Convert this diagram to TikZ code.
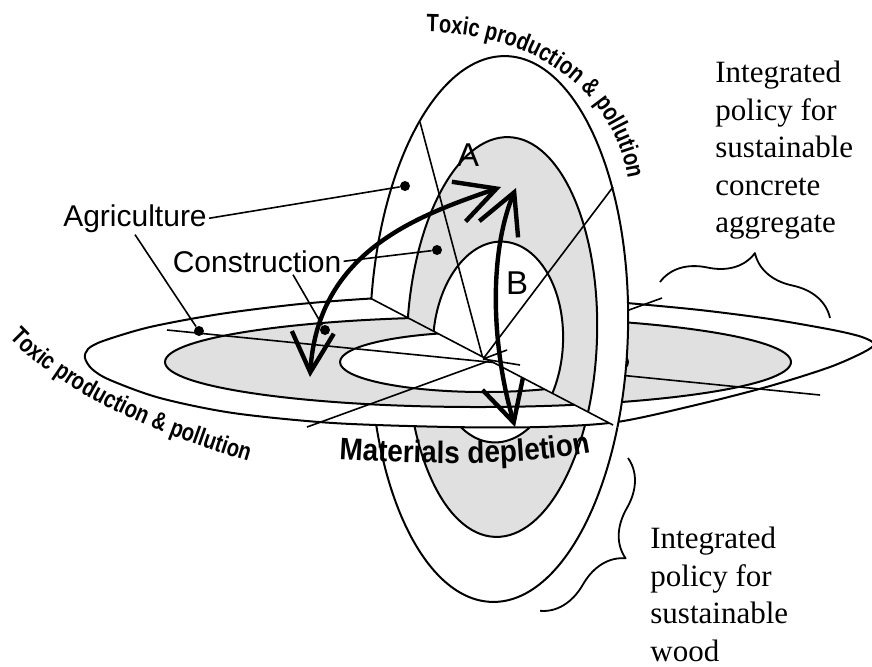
\documentclass[tikz,border=0pt]{standalone}
\usepackage{fontspec}
\usetikzlibrary{arrows.meta,decorations.pathreplacing,decorations.text}
\newfontfamily\sansfont{Liberation Sans}
\newfontfamily\policyfont{Liberation Serif}
\newfontfamily\narrowbold{Liberation Sans}[FakeStretch=0.8]
\newfontfamily\depletionfont{Liberation Sans}[FakeStretch=0.9]
\definecolor{bandgray}{gray}{0.88}

% vertical disk: outer ring, shaded band, inner core
\newcommand\verticaldisk{%
  \filldraw[rim, fill=white, rotate around={-1.5:(499,329)}] (499,329) ellipse [x radius=129, y radius=273];
  \filldraw[rim, fill=bandgray, rotate around={-2:(502,337)}] (502,337) ellipse [x radius=95, y radius=200];
  \filldraw[rim, fill=white, rotate around={-3:(498,342)}] (498,342) ellipse [x radius=65, y radius=100.5];
}

\begin{document}
\begin{tikzpicture}[x=0.5pt, y=-0.5pt, line join=round,
    rim/.style={line width=1pt},
    axis/.style={line width=0.8pt},
    dot/.style={circle, fill, inner sep=0pt, minimum size=5pt},
    twoway/.style={line width=2.2pt, line cap=round,
      {Straight Barb[length=20pt,width=21pt]}-{Straight Barb[length=20pt,width=21pt]}},
    tag/.style={font=\sansfont\fontsize{15}{18}\selectfont, inner sep=1pt},
    letter/.style={font=\sansfont\fontsize{16.5}{18}\selectfont, inner sep=0pt},
    policy/.style={font=\policyfont\fontsize{15.5}{18.7}\selectfont, align=left,
      anchor=north west, inner sep=0pt},
    curly/.style={decorate, decoration={brace, amplitude=24pt, aspect=0.5}, line width=0.9pt}]
  \clip (0,0) rectangle (872,666);

  \coordinate (O) at (483,359);
  \coordinate (Lback) at (370,298);
  \coordinate (Lfront) at (613,425);

  % lower half of the vertical disk, under the horizontal one
  \begin{scope}
    \clip (0,104.6) -- (872,560.4) -- (872,666) -- (0,666) -- cycle;
    \verticaldisk
  \end{scope}

  % horizontal disk
  \filldraw[rim, fill=white] plot[smooth cycle] coordinates {
    (85,358) (92,369) (110,380) (160,398) (233,413) (333,423) (450,427) (540,427)
    (617,422) (700,404) (770,386) (830,367) (864,352) (874,344) (862,337) (833,330)
    (770,319) (700,310) (627,303) (560,297) (470,295) (380,298) (300,304)
    (220,314) (150,327) (103,341) (88,349)};
  \filldraw[rim, fill=bandgray] (478,362) ellipse [x radius=313, y radius=45];
  \filldraw[rim, fill=white] (484,362) ellipse [x radius=144, y radius=30];
  \coordinate (H1a) at (167,330);
  \coordinate (H1b) at (820,395);
  \coordinate (H2a) at (307,427);
  \coordinate (H2b) at (662,298);
  \draw[axis] (H1a) -- (H1b);
  \draw[axis] (H2a) -- (H2b);

  % upper half of the vertical disk
  \begin{scope}
    \clip (0,104.6) -- (872,560.4) -- (872,0) -- (0,0) -- cycle;
    \verticaldisk
    \coordinate (V1) at (420,122);
    \coordinate (V2) at (613,187);
    \draw[axis] (V1) -- (O) -- (V2);
  \end{scope}

  \draw[axis] (Lback) -- (Lfront);
  \draw[axis] (O) -- (520,365);
  \draw[axis] (O) -- (507,350);

  % labels and pointers
  \node[tag, anchor=base] (agri) at (135,226) {Agriculture};
  \node[tag, anchor=base] (constr) at (257,272) {Construction};
  \node[dot] (agriV) at (405,186) {};
  \node[dot] (consV) at (437,250) {};
  \node[dot] (agriH) at (199,331) {};
  \node[dot] (consH) at (325,330) {};
  \draw[axis] (agri.east) -- (agriV);
  \draw[axis] (agri.south) -- (agriH);
  \draw[axis] (constr.east) -- (consV);
  \draw[axis] ([xshift=18pt]constr.south) -- (consH);

  \node[letter] (labA) at (468,155) {A};
  \node[letter] (labB) at (517,283) {B};

  \coordinate (Alow) at (310,377);
  \coordinate (Aup) at (501,187);
  \coordinate (Bup) at (516,188);
  \coordinate (Blow) at (515,427);
  \draw[twoway] (Alow) .. controls (318,250) and (420,215) .. (Aup);
  \draw[twoway] (Bup) .. controls (490,250) and (490,340) .. (Blow);

  % curved captions
  \path[decorate, decoration={text along path, text align=center,
      text={|\narrowbold\bfseries\fontsize{12.5}{12.5}\selectfont|Toxic production {\&} pollution}}]
    (425,32) .. controls (520,32) and (612,80) .. (628,180);
  \path[decorate, decoration={text along path, text align=center,
      text={|\narrowbold\bfseries\fontsize{12.5}{12.5}\selectfont|Toxic production {\&} pollution}}]
    (8,336) .. controls (60,392) and (150,432) .. (250,462);
  \path[decorate, decoration={text along path, text align=center,
      text={|\depletionfont\bfseries\fontsize{15.5}{15.5}\selectfont|Materials depletion}}]
    (332,459) .. controls (430,465) and (530,466) .. (598,451);

  % policy notes with braces
  \node[policy] (concrete) at (715,61) {Integrated\\policy for\\sustainable\\concrete\\aggregate};
  \node[policy] (wood) at (650,527) {Integrated\\policy for\\sustainable\\wood};
  \coordinate (c1) at (660,282);
  \coordinate (c2) at (830,318);
  \coordinate (w1) at (628,458);
  \coordinate (w2) at (540,611);
  \draw[curly] (c1) -- (c2);
  \draw[curly] (w1) -- (w2);
\end{tikzpicture}
\end{document}
